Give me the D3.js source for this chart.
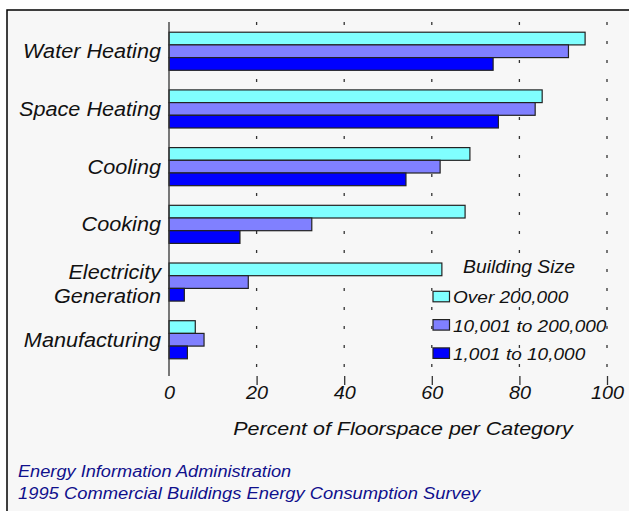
<!DOCTYPE html>
<html>
<head>
<meta charset="utf-8">
<script src="https://cdn.jsdelivr.net/npm/d3@7/dist/d3.min.js"></script>
<style>
  body { margin: 0; background: #ffffff; }
  svg text { font-family: "Liberation Sans", Arial, sans-serif; font-style: italic; }
</style>
</head>
<body>
<svg id="chart" width="629" height="511"></svg>
<script>
// Chart data
const categories = ["Water Heating", "Space Heating", "Cooling", "Cooking", "Electricity Generation", "Manufacturing"];
const series = ["Over 200,000", "10,001 to 200,000", "1,001 to 10,000"];
const over200k = [95.0, 85.2, 68.7, 67.6, 62.3, 6.0];
const mid10k = [91.2, 83.6, 61.9, 32.6, 18.1, 8.0];
const small1k = [74.0, 75.2, 54.1, 16.2, 3.5, 4.2];
const xTicks = [0, 20, 40, 60, 80, 100];
const colors = ["#80ffff", "#8080ff", "#0000ff"];

const seriesValues = [over200k, mid10k, small1k];

const svg = d3.select("#chart");

// Background panel with border
svg.append("rect")
    .attr("x", 7).attr("y", 10)
    .attr("width", 640).attr("height", 520)
    .attr("fill", "#f7f7f7")
    .attr("stroke", "#000")
    .attr("stroke-width", 1.5);

// Scales
const x = d3.scaleLinear().domain([0, 100]).range([169, 607]);
const y = d3.scaleBand().domain(categories).range([22.4, 368.6])
    .paddingInner(0.34).paddingOuter(0.17);
const ySub = d3.scaleBand().domain(series).range([0, y.bandwidth()]);

// Helper for stretched text (reference text is a bit wider than Arial)
function label(parent, px, py, txt, size, anchor, fill, stretch) {
    const g = parent.append("g").attr("transform", `translate(${px},${py}) scale(${stretch || 1.1},1)`);
    g.append("text")
        .attr("text-anchor", anchor)
        .attr("font-size", size)
        .attr("fill", fill || "#111")
        .text(txt);
    return g;
}

// Dotted gridlines
svg.append("g")
    .selectAll("line")
    .data(xTicks.slice(1))
    .enter()
    .append("line")
    .attr("x1", d => x(d)).attr("x2", d => x(d))
    .attr("y1", 22).attr("y2", 376)
    .attr("stroke", "#333")
    .attr("stroke-width", 1.3)
    .attr("stroke-dasharray", "3,16");

// Bars
const groups = svg.append("g")
    .selectAll("g")
    .data(categories)
    .enter()
    .append("g")
    .attr("transform", c => `translate(0,${y(c)})`);

groups.selectAll("rect")
    .data((c, i) => series.map((s, j) => ({ s: s, v: seriesValues[j][i], j: j })))
    .enter()
    .append("rect")
    .attr("x", x(0))
    .attr("y", d => ySub(d.s))
    .attr("width", d => x(d.v) - x(0))
    .attr("height", ySub.bandwidth())
    .attr("fill", d => colors[d.j])
    .attr("stroke", "#222")
    .attr("stroke-width", 1.2);

// Vertical axis line
svg.append("line")
    .attr("x1", x(0)).attr("x2", x(0))
    .attr("y1", 22).attr("y2", 376)
    .attr("stroke", "#333")
    .attr("stroke-width", 1.3);

// Bottom axis (ticks and labels only)
const xAxis = svg.append("g")
    .attr("transform", "translate(0,376)")
    .call(d3.axisBottom(x).tickValues(xTicks).tickSize(9).tickFormat(d3.format("d")));
xAxis.select(".domain").remove();
xAxis.selectAll(".tick line").attr("stroke", "#333").attr("stroke-width", 1.3)
    .filter(d => d === 0).remove();
xAxis.selectAll(".tick text")
    .attr("y", 23).attr("dy", 0)
    .attr("font-size", 18)
    .attr("fill", "#111")
    .attr("transform", "scale(1.1,1)");

// Axis title
label(svg, 403, 435, "Percent of Floorspace per Category", 18.5, "middle", "#111", 1.16);

// Category labels
categories.forEach(c => {
    const cy = y(c) + y.bandwidth() / 2;
    if (c === "Electricity Generation") {
        label(svg, 161, cy - 3, "Electricity", 19.5, "end", "#111", 1.11);
        label(svg, 161, cy + 20.5, "Generation", 19.5, "end", "#111", 1.11);
    } else {
        label(svg, 161, cy + 7, c, 19.5, "end", "#111", 1.11);
    }
});

// Legend
label(svg, 519, 272.7, "Building Size", 17.7, "middle", "#111", 1.095);
series.forEach((s, j) => {
    const by = 303.3 + j * 28.3;
    svg.append("rect")
        .attr("x", 433).attr("y", by - 12)
        .attr("width", 16.5).attr("height", 10.5)
        .attr("fill", colors[j])
        .attr("stroke", "#222")
        .attr("stroke-width", 1.2);
    label(svg, 453, by, s, 17, "start", "#111", 1.12);
});

// Source footer
label(svg, 18, 476.7, "Energy Information Administration", 17, "start", "#10108c", 1.07);
label(svg, 18, 499, "1995 Commercial Buildings Energy Consumption Survey", 17, "start", "#10108c", 1.08);
</script>
</body>
</html>
